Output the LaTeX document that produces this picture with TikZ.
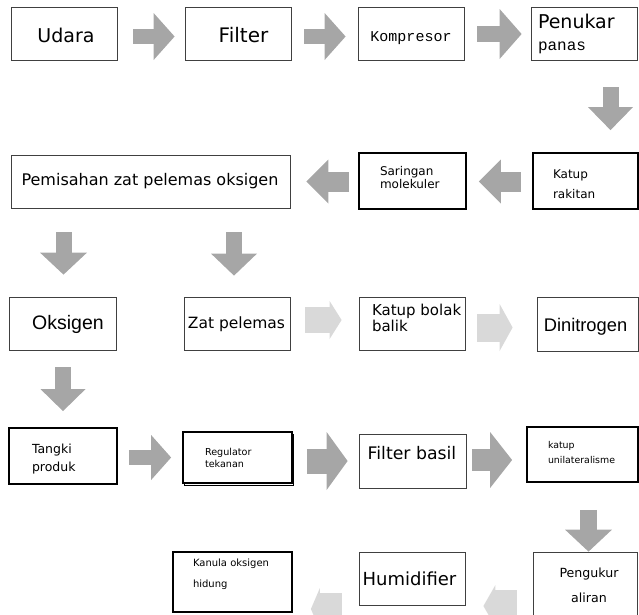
\documentclass[tikz,border=0pt]{standalone}
\usepackage{fontspec}
\usepackage{tikz}
\usetikzlibrary{arrows.meta,calc,shadows}
\newfontfamily\comicf{DejaVu Sans}
\newfontfamily\arialf{Liberation Sans}
\newfontfamily\courf{Liberation Mono}
\newcommand{\fs}[2]{\fontsize{#1}{#2}\selectfont}
\definecolor{arrgray}{RGB}{166,166,166}
\definecolor{arrlight}{RGB}{217,217,217}
\tikzset{
  box/.style 2 args={draw=black!75, line width=0.8pt, fill=white, inner sep=0pt,
    minimum width=#1pt, minimum height=#2pt},
  thickbox/.style 2 args={box={#1}{#2}, draw=black, line width=1.8pt},
  lbl/.style={inner sep=0pt, outer sep=0pt},
  blk/.style n args={3}{draw=arrgray, line width=#1pt,
    -{Triangle[length=#3pt, width=#2pt, line width=0pt]}},
  lblk/.style n args={3}{blk={#1}{#2}{#3}, draw=arrlight}
}

\begin{document}
\begin{tikzpicture}[x=1pt,y=-1pt]
                \useasboundingbox (0,0) rectangle (639,614);

                %first row of boxes
                \node[box={106}{53}] (udara) at (64,33.5) {};
                \node[box={106}{53}] (filter) at (238,33.5) {};
                \node[box={106}{53}] (kompresor) at (411,33.5) {};
                \node[box={106}{53}] (penukar) at (584,33.5) {};

                %second row, read from right to left
                \node[box={279}{53}] (pemisahan) at (150.5,181.5) {};
                \node[thickbox={107}{56}] (saringan) at (412.5,181) {};
                \node[thickbox={105}{56}] (katupR) at (585.5,181) {};

                %third row
                \node[box={107}{53}] (oksigen) at (62.5,323.5) {};
                \node[box={106}{53}] (zat) at (237,323.5) {};
                \node[box={106}{53}] (katupB) at (412,323.5) {};
                \node[box={101}{54}] (dinitrogen) at (587.5,324) {};

                %fourth row
                \node[thickbox={108}{56}] (tangki) at (63,456) {};
                \node[thickbox={109}{51}, general shadow={draw=black, line width=0.8pt, fill=white,
                      shadow xshift=1.5pt, shadow yshift=-2.5pt}] (regulator) at (237.5,457.5) {};
                \node[box={107}{54}] (filterB) at (412.5,461) {};
                \node[thickbox={111}{55}] (katupU) at (582.5,454.5) {};

                %last row, again from right to left
                \node[thickbox={119}{60}] (kanula) at (232.5,582) {};
                \node[box={106}{53}] (humid) at (412,578.5) {};
                \node[box={104}{68}] (pengukur) at (585,586) {};

                %texts in the boxes
                \node[lbl, font={\comicf\fs{19}{22}}, anchor=base] (udara-t) at (66,42) {Udara};
                \node[lbl, font={\comicf\fs{20}{22}}, anchor=base] (filter-t) at (243.5,42) {Filter};
                \node[lbl, font={\courf\fs{15}{18}}, anchor=base] (kompresor-t) at (411,41) {Kompresor};
                \node[lbl, align=left, anchor=west, font={\fs{19}{22}}] (penukar-t) at (538,33.5)
                     {{\comicf Penukar}\\{\courf\fs{16}{22}panas}};
                \node[lbl, font={\comicf\fs{16}{18}}, anchor=base] (pemisahan-t) at (150,185) {Pemisahan zat pelemas oksigen};
                \node[lbl, align=left, anchor=west, font={\comicf\fs{12}{11}}] (saringan-t) at (380,177.5) {Saringan\\molekuler};
                \node[lbl, align=left, anchor=west, font={\comicf\fs{12}{20}}] (katupR-t) at (553,184) {Katup\\rakitan};
                \node[lbl, font={\arialf\fs{19.5}{22}}, anchor=base] (oksigen-t) at (68,329) {Oksigen};
                \node[lbl, font={\comicf\fs{15.5}{18}}, anchor=base] (zat-t) at (236.5,328) {Zat pelemas};
                \node[lbl, align=left, anchor=west, font={\comicf\fs{15}{16}}] (katupB-t) at (372,318) {Katup bolak\\balik};
                \node[lbl, font={\arialf\fs{18.3}{22}}, anchor=base] (dinitrogen-t) at (585.5,331) {Dinitrogen};
                \node[lbl, align=left, anchor=west, font={\comicf\fs{12.5}{18}}] (tangki-t) at (32,459) {Tangki\\produk};
                \node[lbl, align=left, anchor=west, font={\comicf\fs{9.6}{12.5}}] (regulator-t) at (205,458) {Regulator\\tekanan};
                \node[lbl, font={\comicf\fs{17.3}{20}}, anchor=base] (filterB-t) at (412,459) {Filter basil};
                \node[lbl, align=left, anchor=west, font={\comicf\fs{9.4}{15}}] (katupU-t) at (548,452) {katup\\unilateralisme};
                \node[lbl, align=left, anchor=west, font={\comicf\fs{10}{21}}] (kanula-t) at (193,574) {Kanula oksigen\\hidung};
                \node[lbl, font={\comicf\fs{18}{20}}, anchor=base] (humid-t) at (409.5,585) {Humidifier};
                \node[lbl, align=center, font={\comicf\fs{12.6}{25}}] (pengukur-t) at (589,585) {Pengukur\\aliran};

                %big grey arrows, first row
                \draw[blk={15}{47}{21}] ($(udara.east)+(16,3)$) -- ($(filter.west)+(-10,3)$);
                \draw[blk={15}{47}{21}] ($(filter.east)+(13,3)$) -- ($(kompresor.west)+(-12,3)$);
                \draw[blk={16}{50}{22}] ($(kompresor.east)+(13,0.5)$) -- ($(penukar.west)+(-9,0.5)$);

                %down to the second row and back to the left
                \draw[blk={16}{45}{23}] ($(penukar.south)+(26.5,27)$) -- ($(katupR.north)+(25,-22)$);
                \draw[blk={20}{44}{22}] ($(katupR.west)+(-11,0.5)$) -- ($(saringan.east)+(12,0.5)$);
                \draw[blk={20}{44}{22}] ($(saringan.west)+(-9,0.5)$) -- ($(pemisahan.east)+(16,0)$);

                %separation gives two streams
                \draw[blk={16}{47}{22}] ($(pemisahan.south -| oksigen.south)+(1,24)$) -- ($(oksigen.north)+(1,-22)$);
                \draw[blk={16}{46}{22}] ($(pemisahan.south -| zat.south)+(-3,24)$) -- ($(zat.north)+(-3,-21)$);

                %light arrows of the nitrogen branch
                \draw[lblk={26}{38}{12}] ($(zat.east)+(15,-3.5)$) -- ($(katupB.west)+(-17,-3.5)$);
                \draw[lblk={28}{47}{13}] ($(katupB.east)+(12,4)$) -- ($(dinitrogen.west)+(-24,3.5)$);

                %oxygen line
                \draw[blk={16}{45}{22}] ($(oksigen.south)+(0.5,17)$) -- ($(tangki.north)+(0,-16)$);
                \draw[blk={15}{45}{20}] ($(tangki.east)+(11,1.5)$) -- ($(regulator.west)+(-11,0)$);
                \draw[blk={25}{58}{21}] ($(regulator.east)+(14,3.5)$) -- ($(filterB.west)+(-11,0)$);
                \draw[blk={22}{56}{22}] ($(filterB.east)+(6,-1)$) -- ($(katupU.west)+(-14,5.5)$);
                \draw[blk={17}{47}{22}] ($(katupU.south)+(6,27)$) -- ($(pengukur.north)+(3.5,0)$);

                %light arrows at the bottom
                \draw[lblk={32}{42}{12}] ($(pengukur.west)+(-16,20)$) -- ($(humid.east)+(18,27.5)$);
                \draw[lblk={32}{42}{9}] ($(humid.west)+(-17,30.5)$) -- ($(kanula.east)+(18,27)$);
\end{tikzpicture}
\end{document}
